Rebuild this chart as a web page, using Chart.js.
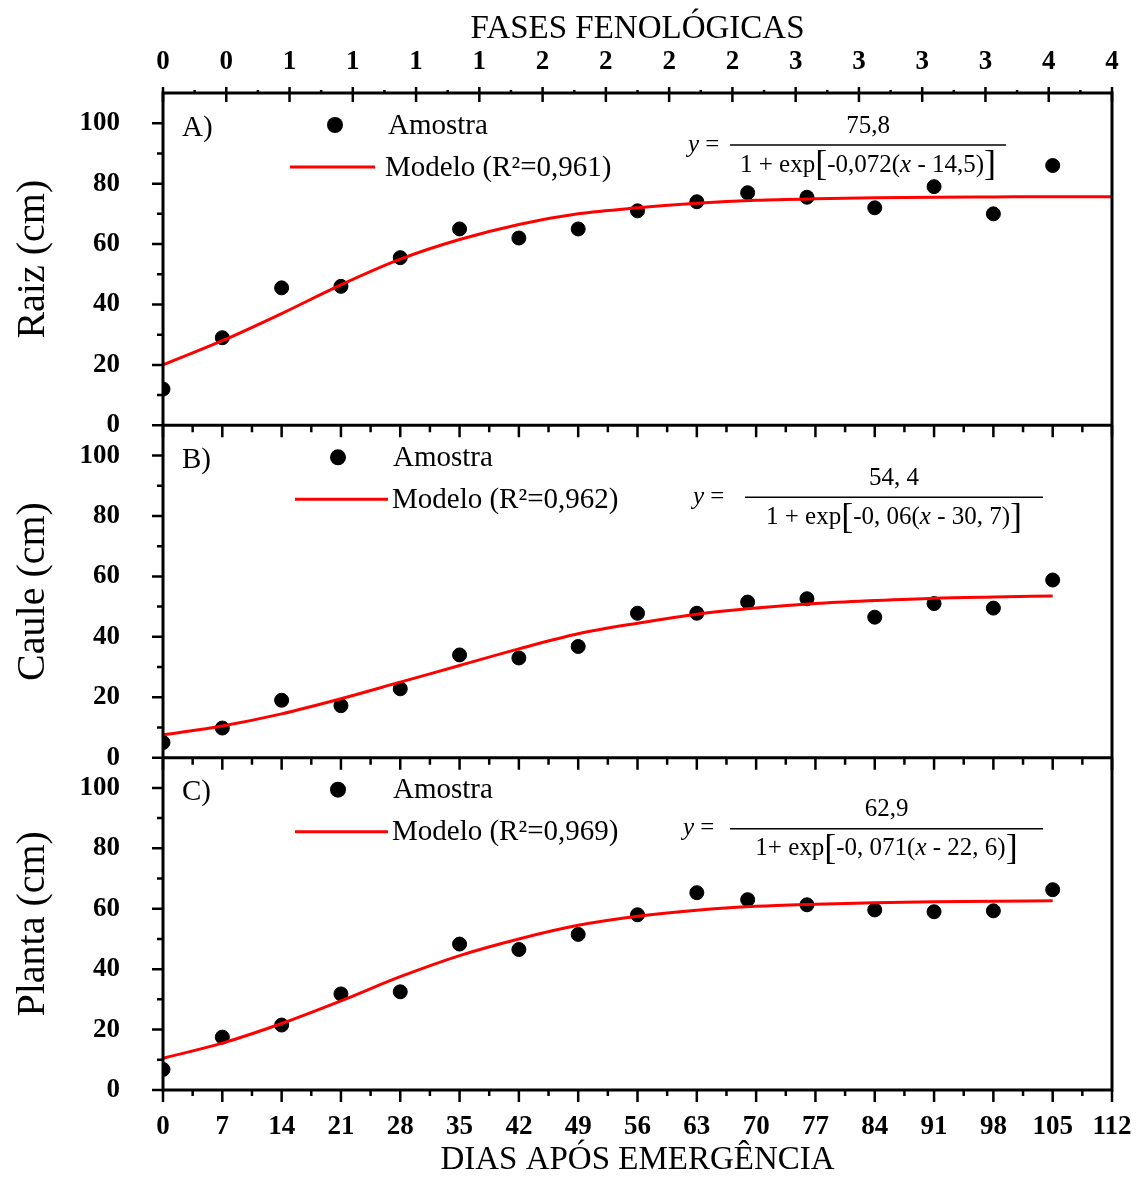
<!DOCTYPE html>
<html lang="pt">
<head>
<meta charset="utf-8">
<title>Raiz, Caule e Planta</title>
<script src="https://cdn.jsdelivr.net/npm/chart.js@4.4.1/dist/chart.umd.min.js"></script>
<style>
  html, body { margin: 0; padding: 0; background: #fff; }
  #wrap { position: relative; width: 1136px; height: 1177px; }
</style>
</head>
<body>
<div id="wrap"><canvas id="grafico"></canvas></div>
<script>
// Dias após emergência das amostras
const dias = [0, 7, 14, 21, 28, 35, 42, 49, 56, 63, 69, 76, 84, 91, 98, 105];
const raizAmostra = [12, 29, 45.5, 46, 55.5, 65, 62, 65, 71, 74, 77, 75.5, 72, 79, 70, 86];
const cauleAmostra = [5, 9.8, 19, 17.2, 22.8, 34, 33, 36.8, 47.8, 47.8, 51.5, 52.6, 46.5, 51, 49.5, 58.8];
const plantaAmostra = [6.8, 17.5, 21.5, 31.8, 32.5, 48.3, 46.5, 51.5, 58, 65.3, 63, 61.3, 59.6, 59, 59.3, 66.3];

// Curvas do modelo
const diasModelo = [0, 7, 14, 21, 28, 35, 42, 49, 56, 63, 70, 77, 84, 91, 98, 105, 112];
const raizModelo = [20, 28, 37, 46.5, 55, 61.5, 66.5, 70, 72, 73.5, 74.5, 75, 75.3, 75.5, 75.6, 75.7, 75.7];
const cauleModelo = [7.5, 10.5, 14.5, 19.5, 25, 30.5, 36, 41, 44.5, 47.5, 49.5, 51, 52, 52.8, 53.2, 53.5];
const plantaModelo = [10.5, 15.5, 22, 29.5, 37.5, 44.5, 50, 54.5, 57.5, 59.5, 60.8, 61.5, 62, 62.3, 62.5, 62.6];

// Fases fenológicas (eixo superior)
const fases = ['0', '0', '1', '1', '1', '1', '2', '2', '2', '2', '3', '3', '3', '3', '4', '4'];

const SERIF = '"Liberation Serif", "Times New Roman", serif';

// Painéis: eixo, título, legenda e equação
const paineis = [
    { id: 'yA', letra: 'A)', titulo: 'Raiz (cm)', amostra: raizAmostra, modelo: raizModelo,
      r2: 'Modelo (R\u00b2=0,961)', leg: { dot: 335, txt: 388, l0: 290, l1: 375, mod: 385 },
      eq: { xy: 688, x0: 730, x1: 1006, linha: 52, num: '75,8', den: ['1 + exp', '-0,072(', ' - 14,5)'] } },
    { id: 'yB', letra: 'B)', titulo: 'Caule (cm)', amostra: cauleAmostra, modelo: cauleModelo,
      r2: 'Modelo (R\u00b2=0,962)', leg: { dot: 338, txt: 393, l0: 295, l1: 388, mod: 392 },
      eq: { xy: 693, x0: 745, x1: 1043, linha: 72, num: '54, 4', den: ['1 + exp', '-0, 06(', ' - 30, 7)'] } },
    { id: 'yC', letra: 'C)', titulo: 'Planta (cm)', amostra: plantaAmostra, modelo: plantaModelo,
      r2: 'Modelo (R\u00b2=0,969)', leg: { dot: 338, txt: 393, l0: 295, l1: 388, mod: 392 },
      eq: { xy: 683, x0: 730, x1: 1043, linha: 71, num: '62,9', den: ['1+ exp', '-0, 071(', ' - 22, 6)'] } }
];

function pontos(xs, ys) {
    return ys.map((y, i) => ({ x: xs[i], y: y }));
}

// Datasets
const datasets = [];
paineis.forEach(p => {
    datasets.push({
        type: 'line',
        label: 'Modelo',
        data: pontos(diasModelo, p.modelo),
        yAxisID: p.id,
        borderColor: '#ff0000',
        borderWidth: 3,
        pointRadius: 0,
        cubicInterpolationMode: 'monotone',
        clip: 0
    });
    datasets.push({
        type: 'scatter',
        label: 'Amostra',
        data: pontos(dias, p.amostra),
        yAxisID: p.id,
        backgroundColor: '#000',
        borderColor: '#000',
        pointRadius: 7,
        clip: 0
    });
});

// Eixos (x inferior, x superior e três y empilhados)
const fonteTick = { family: SERIF, size: 27, weight: 'bold' };
const scales = {
    x: {
        type: 'linear', position: 'bottom', min: 0, max: 112,
        ticks: { stepSize: 7, autoSkip: false, maxRotation: 0, color: '#000', font: fonteTick, padding: 21 },
        grid: { display: false, drawTicks: false },
        border: { display: false },
        title: { display: true, text: 'DIAS APÓS EMERGÊNCIA', color: '#000',
                 font: { family: SERIF, size: 33 }, padding: { top: 0, bottom: -3 } },
        afterFit: s => { s.height = 87; s.paddingLeft = 0; s.paddingRight = 0; }
    },
    x2: {
        type: 'linear', position: 'top', min: 0, max: 15,
        ticks: { stepSize: 1, autoSkip: false, maxRotation: 0, color: '#000', font: fonteTick, padding: 15,
                 callback: v => fases[Math.round(v)] },
        grid: { display: false, drawTicks: false },
        border: { display: false },
        title: { display: true, text: 'FASES FENOLÓGICAS', color: '#000',
                 font: { family: SERIF, size: 33 }, padding: { top: 10, bottom: 0 } },
        afterFit: s => { s.height = 93; s.paddingLeft = 0; s.paddingRight = 0; }
    }
};
paineis.forEach((p, i) => {
    scales[p.id] = {
        type: 'linear', position: 'left', stack: 'paineis', stackWeight: 1, weight: 3 - i,
        min: 0, max: 110,
        ticks: { stepSize: 20, includeBounds: false, color: '#000', font: fonteTick, padding: 43 },
        grid: { display: false, drawTicks: false },
        border: { display: false },
        title: { display: true, text: p.titulo, color: '#000',
                 font: { family: SERIF, size: 40 }, padding: { top: 9, bottom: 0 } },
        afterFit: s => { s.width = 163; s.paddingTop = 0; s.paddingBottom = 0; }
    };
});

// Moldura, separadores e marcas dos eixos
const moldura = {
    id: 'moldura',
    afterDraw(chart) {
        const ctx = chart.ctx;
        const a = chart.chartArea;
        const sx = chart.scales.x, sx2 = chart.scales.x2;
        ctx.save();
        ctx.strokeStyle = '#000';
        ctx.lineWidth = 2.5;
        ctx.beginPath();
        // eixo inferior
        for (let d = 0; d <= 112; d += 3.5) {
            const px = sx.getPixelForValue(d);
            ctx.moveTo(px, a.bottom);
            ctx.lineTo(px, a.bottom + (d % 7 === 0 ? 12 : 6));
        }
        // separadores (marcas para dentro)
        paineis.slice(1).forEach(p => {
            const y0 = chart.scales[p.id].top;
            for (let d = 0; d <= 112; d += 3.5) {
                const px = sx.getPixelForValue(d);
                ctx.moveTo(px, y0);
                ctx.lineTo(px, y0 + (d % 7 === 0 ? 12 : 7));
            }
        });
        // eixos y
        paineis.forEach(p => {
            const s = chart.scales[p.id];
            for (let v = 0; v <= 100; v += 10) {
                const py = s.getPixelForValue(v);
                ctx.moveTo(a.left - (v % 20 === 0 ? 11 : 6), py);
                ctx.lineTo(a.left, py);
            }
        });
        // eixo superior
        for (let k = 0; k <= 15; k += 0.5) {
            const px = sx2.getPixelForValue(k);
            const maior = Number.isInteger(k);
            ctx.moveTo(px, a.top - (maior ? 6 : 3));
            ctx.lineTo(px, a.top + (maior ? 9 : 0));
        }
        ctx.stroke();

        ctx.lineWidth = 3;
        ctx.strokeRect(a.left, a.top, a.right - a.left, a.bottom - a.top);
        ctx.beginPath();
        paineis.slice(1).forEach(p => {
            const y0 = chart.scales[p.id].top;
            ctx.moveTo(a.left, y0);
            ctx.lineTo(a.right, y0);
        });
        ctx.stroke();
        ctx.restore();
    }
};

// Legendas e equações de cada painel
function desenhaEquacao(ctx, eq, topo) {
    const yl = topo + eq.linha;
    const normal = '25px ' + SERIF, italico = 'italic 25px ' + SERIF, grande = '36px ' + SERIF;
    ctx.textBaseline = 'middle';
    ctx.textAlign = 'left';
    ctx.font = italico;
    ctx.fillText('y', eq.xy, yl);
    const wy = ctx.measureText('y').width;
    ctx.font = normal;
    ctx.fillText(' =', eq.xy + wy, yl);

    ctx.lineWidth = 1.5;
    ctx.beginPath();
    ctx.moveTo(eq.x0, yl);
    ctx.lineTo(eq.x1, yl);
    ctx.stroke();

    ctx.textAlign = 'center';
    ctx.fillText(eq.num, (eq.x0 + eq.x1) / 2, yl - 19);

    const partes = [[eq.den[0], normal], ['[', grande], [eq.den[1], normal], ['x', italico], [eq.den[2], normal], [']', grande]];
    let total = 0;
    partes.forEach(pt => { ctx.font = pt[1]; total += ctx.measureText(pt[0]).width; });
    let x = (eq.x0 + eq.x1) / 2 - total / 2;
    ctx.textAlign = 'left';
    partes.forEach(pt => {
        ctx.font = pt[1];
        ctx.fillText(pt[0], x, yl + 20 + (pt[1] === grande ? 1 : 0));
        x += ctx.measureText(pt[0]).width;
    });
}

const anotacoes = {
    id: 'anotacoes',
    afterDraw(chart) {
        const ctx = chart.ctx;
        ctx.save();
        ctx.fillStyle = '#000';
        ctx.strokeStyle = '#000';
        paineis.forEach(p => {
            const topo = chart.scales[p.id].top;
            ctx.font = '29px ' + SERIF;
            ctx.textAlign = 'left';
            ctx.textBaseline = 'middle';
            ctx.fillText(p.letra, chart.chartArea.left + 19, topo + 35);

            ctx.beginPath();
            ctx.arc(p.leg.dot, topo + 32, 8, 0, Math.PI * 2);
            ctx.fill();
            ctx.fillText('Amostra', p.leg.txt, topo + 33);

            ctx.save();
            ctx.strokeStyle = '#ff0000';
            ctx.lineWidth = 3;
            ctx.beginPath();
            ctx.moveTo(p.leg.l0, topo + 74);
            ctx.lineTo(p.leg.l1, topo + 74);
            ctx.stroke();
            ctx.restore();
            ctx.fillText(p.r2, p.leg.mod, topo + 75);

            desenhaEquacao(ctx, p.eq, topo);
        });
        ctx.restore();
    }
};

new Chart(document.getElementById('grafico'), {
    data: { datasets: datasets },
    options: {
        responsive: true,
        maintainAspectRatio: false,
        animation: false,
        layout: { padding: { left: 0, right: 24, top: 0, bottom: 0 } },
        plugins: { legend: { display: false }, tooltip: { enabled: false } },
        scales: scales
    },
    plugins: [moldura, anotacoes]
});
</script>
</body>
</html>
